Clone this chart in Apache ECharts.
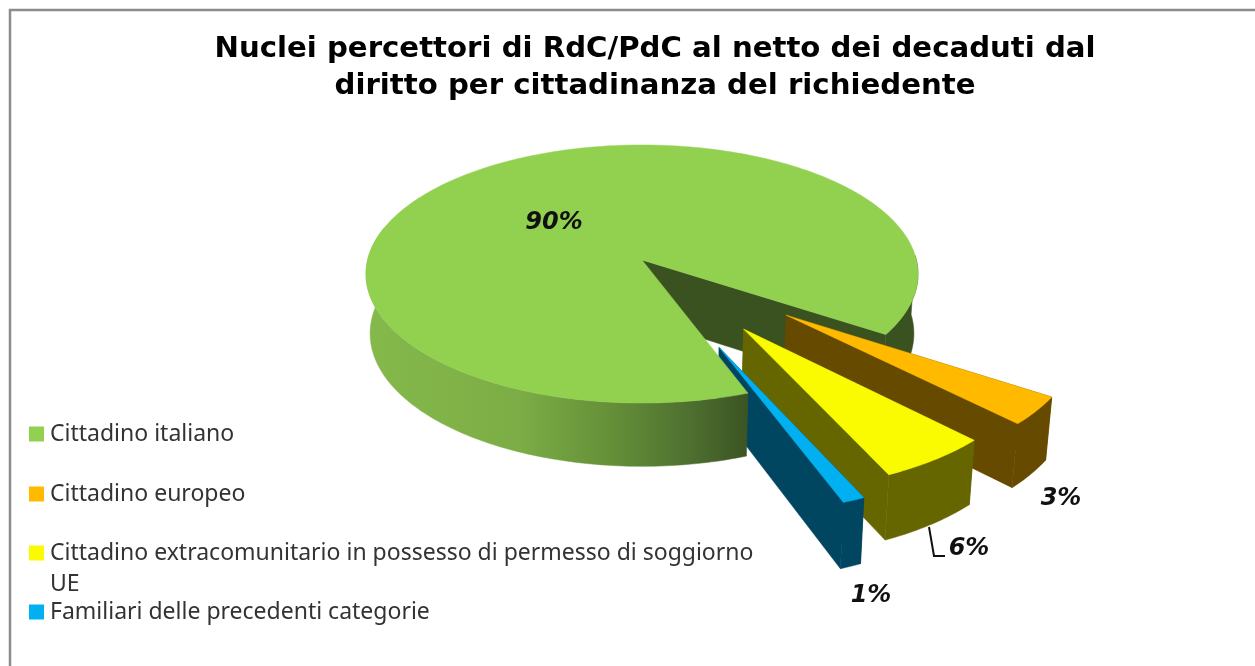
<!DOCTYPE html>
<html>
<head>
<meta charset="utf-8">
<script src="https://cdn.jsdelivr.net/npm/echarts@6/dist/echarts.min.js"></script>
<style>
  html, body { margin: 0; background: #fff; }
  #chart { width: 1255px; height: 666px; }
</style>
</head>
<body>
<div id="chart"></div>
<script>
const titleText = "Nuclei percettori di RdC/PdC al netto dei decaduti dal\ndiritto per cittadinanza del richiedente";
const categories = [
  "Cittadino italiano",
  "Cittadino europeo",
  "Cittadino extracomunitario in possesso di permesso di soggiorno UE",
  "Familiari delle precedenti categorie",
];
const values = [89.9, 3.4, 5.6, 1.1];

const topColors = ["#92d050", "#ffba00", "#fafa00", "#00b0f0"];
const wallColors = ["#3a5220", "#664a00", "#666600", "#004660"];
const explode = [0, 0.65, 0.62, 0.69];
const labelAnchors = [[554, 223], [1061, 499], [969, 549], [871, 596]];
const legendRows = [434, 494, 553, 612];

// tilted disc, fitted to the picture: a pie seen in perspective
const cx = 642, cy = 260, rx = 274.4, ry = 127.5, persp = 0.1085;
const startAngle = 69.7;
const rad = Math.PI / 180;

function project(u, v, bottom) {
  const w = 1 - persp * v;
  const x = cx + (rx * u) / w;
  const y = cy + (ry * v) / w;
  return bottom ? [cx + (x - cx) * 0.985, cy + 59 + (y - cy) * 1.03] : [x, y];
}

function arc(from, to, ou, ov, bottom) {
  const pts = [];
  const n = Math.max(2, Math.ceil(Math.abs(to - from)));
  for (let i = 0; i <= n; i++) {
    const a = (from + ((to - from) * i) / n) * rad;
    pts.push(project(ou + Math.cos(a), ov + Math.sin(a), bottom));
  }
  return pts;
}

function poly(points, fill, z2) {
  return {
    type: "polygon",
    z2,
    shape: { points },
    style: { fill, stroke: fill, lineWidth: 0.5 },
  };
}

function wall(from, to, ou, ov, fill, z2) {
  return poly(arc(from, to, ou, ov, false).concat(arc(from, to, ou, ov, true).reverse()), fill, z2);
}

function radialWall(angle, ou, ov, fill, z2) {
  const a = angle * rad;
  const u = ou + Math.cos(a), v = ov + Math.sin(a);
  return poly(
    [project(ou, ov, false), project(u, v, false), project(u, v, true), project(ou, ov, true)],
    fill,
    z2,
  );
}

const total = values.reduce((a, b) => a + b, 0);
const firstAngles = values.map((_, i) =>
  startAngle + (values.slice(0, i).reduce((a, b) => a + b, 0) / total) * 360,
);

const frontWall = {
  type: "linear",
  x: 366, y: 0, x2: 746, y2: 0,
  global: true,
  colorStops: [
    { offset: 0, color: "#85b94b" },
    { offset: 0.4, color: "#7cad46" },
    { offset: 0.65, color: "#648f38" },
    { offset: 0.85, color: "#4e7030" },
    { offset: 1, color: "#3c5523" },
  ],
};

function renderSlice(index) {
  return (params, api) => {
    const from = firstAngles[index];
    const to = from + (api.value(0) / total) * 360;
    const mid = ((from + to) / 2) * rad;
    const ou = explode[index] * Math.cos(mid);
    const ov = explode[index] * Math.sin(mid);
    const top = [project(ou, ov, false)].concat(arc(from, to, ou, ov, false));
    const children = [];

    if (index === 0) {
      // the part of the big slice behind the others, then the part in front of them
      children.push(radialWall(to, ou, ov, wallColors[0], 0));
      children.push(wall(358, to, ou, ov, wallColors[0], 0));
      children.push(wall(from, 195, ou, ov, frontWall, 20));
      children.push(poly(top, topColors[0], 21));
    } else {
      const z = index * 3;
      children.push(radialWall(from, ou, ov, wallColors[index], z));
      children.push(radialWall(to, ou, ov, wallColors[index], z));
      children.push(wall(from, to, ou, ov, wallColors[index], z));
      children.push(poly(top, topColors[index], z + 1));
    }

    if (index === 2) {
      children.push({
        type: "polyline",
        z2: 5,
        shape: { points: [[929, 527], [934, 556], [945, 556]] },
        style: { fill: "none", stroke: "#111", lineWidth: 2 },
      });
    }

    children.push({
      type: "text",
      z2: 30,
      x: labelAnchors[index][0],
      y: labelAnchors[index][1],
      style: {
        text: Math.round(api.value(0)) + "%",
        font: 'italic bold 24px "DejaVu Sans"',
        fill: "#111",
        align: "center",
        verticalAlign: "middle",
      },
    });
    return { type: "group", children };
  };
}

const chart = echarts.init(document.getElementById("chart"), null, { renderer: "canvas" });
const legendFont = { fontFamily: "Noto Sans", fontSize: 23, color: "#333" };

chart.setOption({
  animation: false,
  backgroundColor: "#fff",
  title: {
    text: titleText,
    left: 650,
    top: 26,
    textAlign: "center",
    textStyle: {
      fontFamily: "DejaVu Sans",
      fontWeight: "bold",
      fontSize: 29.2,
      lineHeight: 37,
      color: "#000",
    },
  },
  legend: categories.map((name, i) => {
    // the long entry wraps; a blank first line keeps the marker next to its first row
    const wraps = i === 2;
    const lineHeight = wraps ? 31 : 24;
    return {
      data: [name],
      left: 29,
      top: legendRows[i] - (wraps ? lineHeight * 1.5 : lineHeight / 2),
      padding: 0,
      icon: "rect",
      itemWidth: 15,
      itemHeight: 15,
      itemGap: 0,
      selectedMode: false,
      formatter: wraps ? (n) => "\n" + n.replace(" UE", "\nUE") : "{name}",
      textStyle: { ...legendFont, lineHeight, padding: [0, 0, 0, 1] },
    };
  }),
  graphic: [
    {
      type: "polyline",
      silent: true,
      shape: { points: [[10, 666], [10, 10], [1255, 10]] },
      style: { fill: "none", stroke: "#8c8c8c", lineWidth: 2.5 },
    },
  ],
  series: categories.map((name, i) => ({
    type: "custom",
    name,
    coordinateSystem: "none",
    silent: true,
    itemStyle: { color: topColors[i] },
    data: [[values[i]]],
    renderItem: renderSlice(i),
  })),
});
</script>
</body>
</html>
